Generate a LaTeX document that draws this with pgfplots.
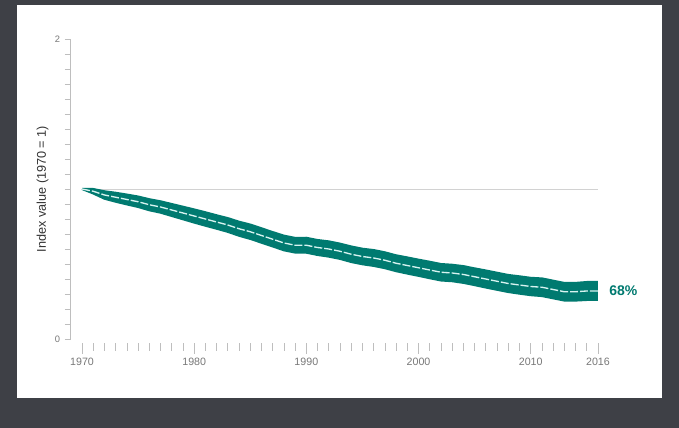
\documentclass[border=0pt]{standalone}
\usepackage{pgfplots}
\pgfplotsset{compat=1.18}
\usepackage{pgfplotstable}
\usepackage{fontspec}
\setmainfont{Liberation Sans}

\definecolor{slide}{RGB}{62,64,70}
\definecolor{lpiteal}{RGB}{0,122,112}
\definecolor{lpiline}{RGB}{215,243,240}
\definecolor{axisgray}{RGB}{190,190,190}
\definecolor{labelgray}{RGB}{120,120,120}

% Living Planet Index: central estimate, lower and upper confidence limits,
% and the width of the confidence interval (hi - lo)
\pgfplotstableread{
year mid lo hi w
1970 1.000 1.000 1.000 0.000
1971 0.985 0.970 1.000 0.030
1972 0.960 0.935 0.985 0.050
1973 0.945 0.915 0.975 0.060
1974 0.930 0.897 0.963 0.066
1975 0.915 0.880 0.950 0.070
1976 0.895 0.858 0.932 0.074
1977 0.880 0.842 0.918 0.076
1978 0.860 0.820 0.900 0.080
1979 0.840 0.798 0.882 0.084
1980 0.820 0.776 0.864 0.088
1981 0.800 0.755 0.845 0.090
1982 0.780 0.735 0.825 0.090
1983 0.760 0.714 0.806 0.092
1984 0.735 0.688 0.782 0.094
1985 0.715 0.667 0.763 0.096
1986 0.690 0.642 0.738 0.096
1987 0.665 0.617 0.713 0.096
1988 0.640 0.591 0.689 0.098
1989 0.625 0.576 0.674 0.098
1990 0.625 0.575 0.675 0.100
1991 0.610 0.560 0.660 0.100
1992 0.600 0.549 0.651 0.102
1993 0.585 0.534 0.636 0.102
1994 0.565 0.513 0.617 0.104
1995 0.550 0.498 0.602 0.104
1996 0.540 0.487 0.593 0.106
1997 0.525 0.472 0.578 0.106
1998 0.505 0.452 0.558 0.106
1999 0.490 0.436 0.544 0.108
2000 0.475 0.421 0.529 0.108
2001 0.460 0.405 0.515 0.110
2002 0.445 0.390 0.500 0.110
2003 0.440 0.385 0.495 0.110
2004 0.430 0.374 0.486 0.112
2005 0.415 0.359 0.471 0.112
2006 0.400 0.343 0.457 0.114
2007 0.385 0.328 0.442 0.114
2008 0.370 0.313 0.427 0.114
2009 0.360 0.302 0.418 0.116
2010 0.350 0.292 0.408 0.116
2011 0.345 0.286 0.404 0.118
2012 0.330 0.271 0.389 0.118
2013 0.315 0.256 0.374 0.118
2014 0.315 0.256 0.374 0.118
2015 0.320 0.260 0.380 0.120
2016 0.320 0.260 0.380 0.120
}\lpi

\begin{document}
\begin{tikzpicture}
% slide background and white panel
\fill[slide] (0,0) rectangle (509.25pt,321pt);
\fill[white] (12.75pt,22.5pt) rectangle (496.5pt,317.25pt);

% main plotting area with the y axis
\begin{axis}[
  at={(53.1pt,66.75pt)}, anchor=south west,
  scale only axis, width=403.8pt, height=225pt,
  xmin=1969, xmax=2017, ymin=0, ymax=2,
  axis y line*=left, axis x line*=bottom,
  x axis line style={draw=none}, xtick=\empty,
  y axis line style={axisgray, line width=0.5pt},
  ytick={0,2}, minor y tick num=19,
  tick align=outside,
  major tick length=4.5pt, minor tick length=4.5pt,
  every tick/.style={axisgray, line width=0.5pt},
  yticklabel style={font=\fontsize{7}{8}\selectfont, text=labelgray},
  /pgf/number format/assume math mode=true,
  ylabel={Index value (1970 = 1)},
  ylabel style={font=\fontsize{9.5}{11}\selectfont, text=black!80, yshift=-2pt},
  clip=false,
]
  % reference level
  \addplot[axisgray!70, line width=0.6pt] coordinates {(1970,1) (2016,1)};
  % confidence band: lower limit, then the interval stacked on top of it
  \addplot[stack plots=y, draw=none] table[x=year, y=lo] {\lpi};
  \addplot[stack plots=y, fill=lpiteal, draw=none] table[x=year, y=w] {\lpi} \closedcycle;
  % soft edges of the band
  \addplot[lpiteal, line width=1.5pt, line join=round] table[x=year, y=hi] {\lpi};
  \addplot[lpiteal, line width=1.5pt, line join=round] table[x=year, y=lo] {\lpi};
  % central index line
  \addplot[lpiline, line width=1pt, dash pattern=on 6pt off 1.5pt] table[x=year, y=mid] {\lpi};
  \node[anchor=west, text=lpiteal, font=\fontsize{10.5}{12}\bfseries\selectfont]
    at (axis cs:2016,0.32) [xshift=5pt] {68\%};
\end{axis}

% year ticks along the bottom
\begin{axis}[
  at={(53.1pt,63.75pt)}, anchor=south west,
  scale only axis, width=403.8pt, height=2pt,
  xmin=1969, xmax=2017, ymin=0, ymax=1,
  axis y line=none, axis x line*=bottom,
  x axis line style={draw=none},
  xtick={1970,1980,1990,2000,2010,2016},
  xticklabels={1970,1980,1990,2000,2010,2016},
  minor xtick={1971,...,2015},
  tick align=outside,
  major tick length=8pt, minor tick length=6pt,
  every tick/.style={axisgray, line width=0.5pt},
  xticklabel style={font=\fontsize{8}{9}\selectfont, text=labelgray},
]
  \addplot[draw=none] coordinates {(1970,0) (2016,0)};
\end{axis}
\end{tikzpicture}
\end{document}
